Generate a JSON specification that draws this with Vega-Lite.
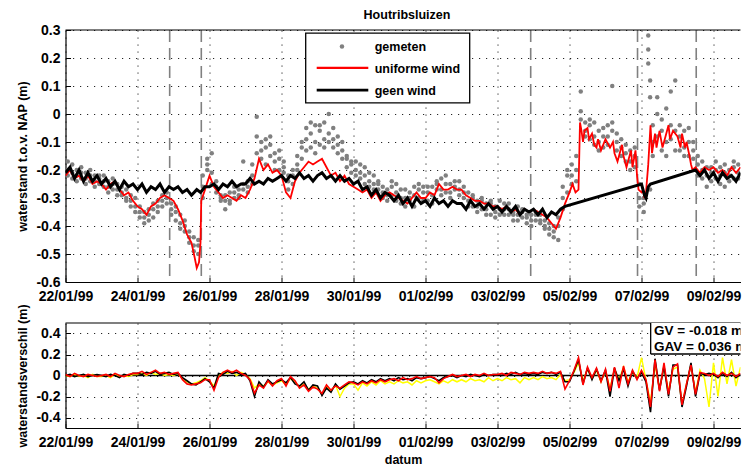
{
"$schema":"https://vega.github.io/schema/vega-lite/v6.json",
"padding":{"left":16.5,"top":8,"right":0,"bottom":0},
"spacing":41,
"bounds":"flush",
"vconcat":[
{
"width":675,"height":252,
"title":{"text":"Houtribsluizen","fontSize":12.5,"font":"Liberation Sans","fontWeight":"bold","color":"#000","offset":2,"dx":4},
"layer":[
{"data":{"values":[{"t":"1999-01-24T21:27Z"},{"t":"1999-01-25T18:32Z"},{"t":"1999-02-03T22:08Z"},{"t":"1999-02-06T21:21Z"},{"t":"1999-02-08T12:29Z"}]},
 "mark":{"type":"rule","color":"#808080","strokeWidth":1.6,"strokeDash":[12,6]},
 "encoding":{"x":{"field":"t","type":"temporal","title":null,
   "scale":{"type":"utc","domain":[{"year":1999,"month":1,"date":22,"utc":true},{"year":1999,"month":2,"date":9,"hours":18,"utc":true}],"nice":false},
   "axis":{"values":[{"year":1999,"month":1,"date":22,"utc":true},{"year":1999,"month":1,"date":24,"utc":true},{"year":1999,"month":1,"date":26,"utc":true},{"year":1999,"month":1,"date":28,"utc":true},{"year":1999,"month":1,"date":30,"utc":true},{"year":1999,"month":2,"date":1,"utc":true},{"year":1999,"month":2,"date":3,"utc":true},{"year":1999,"month":2,"date":5,"utc":true},{"year":1999,"month":2,"date":7,"utc":true},{"year":1999,"month":2,"date":9,"utc":true}],"labelExpr":"utcFormat(datum.value,'%d/%m/%y')","title":null}}}},
{"data":{"values":[
{"t":"1999-01-22T01:30Z","a":-0.20,"b":-0.22,"c":-0.17},{"t":"1999-01-22T04:30Z","a":-0.18,"b":-0.21,"c":-0.23},{"t":"1999-01-22T07:30Z","a":-0.22,"b":-0.24,"c":-0.20},{"t":"1999-01-22T10:30Z","a":-0.21,"b":-0.19,"c":-0.23},{"t":"1999-01-22T13:30Z","a":-0.23,"b":-0.25,"c":-0.21},{"t":"1999-01-22T16:30Z","a":-0.22,"b":-0.20,"c":-0.24},{"t":"1999-01-22T19:30Z","a":-0.24,"b":-0.22,"c":-0.26},{"t":"1999-01-22T22:30Z","a":-0.23,"b":-0.25,"c":-0.22},
{"t":"1999-01-23T01:30Z","a":-0.24,"b":-0.26,"c":-0.22},{"t":"1999-01-23T04:30Z","a":-0.26,"b":-0.28,"c":-0.24},{"t":"1999-01-23T07:30Z","a":-0.25,"b":-0.23,"c":-0.27},{"t":"1999-01-23T10:30Z","a":-0.27,"b":-0.25,"c":-0.29},{"t":"1999-01-23T13:30Z","a":-0.28,"b":-0.29,"c":-0.26},{"t":"1999-01-23T16:30Z","a":-0.30,"b":-0.27,"c":-0.31},{"t":"1999-01-23T19:30Z","a":-0.31,"b":-0.29,"c":-0.33},{"t":"1999-01-23T22:30Z","a":-0.33,"b":-0.30,"c":-0.35},
{"t":"1999-01-24T01:30Z","a":-0.35,"b":-0.33,"c":-0.37},{"t":"1999-01-24T04:30Z","a":-0.37,"b":-0.39,"c":-0.35},{"t":"1999-01-24T07:30Z","a":-0.38,"b":-0.36,"c":-0.34},{"t":"1999-01-24T10:30Z","a":-0.34,"b":-0.37,"c":-0.32},{"t":"1999-01-24T13:30Z","a":-0.33,"b":-0.35,"c":-0.31},{"t":"1999-01-24T16:30Z","a":-0.31,"b":-0.29,"c":-0.33},{"t":"1999-01-24T19:30Z","a":-0.30,"b":-0.32,"c":-0.28},{"t":"1999-01-24T22:30Z","a":-0.32,"b":-0.34,"c":-0.36},
{"t":"1999-01-25T01:30Z","a":-0.35,"b":-0.38,"c":-0.33},{"t":"1999-01-25T04:30Z","a":-0.39,"b":-0.36,"c":-0.41},{"t":"1999-01-25T07:30Z","a":-0.42,"b":-0.40,"c":-0.38},{"t":"1999-01-25T10:30Z","a":-0.44,"b":-0.46,"c":-0.42},{"t":"1999-01-25T13:30Z","a":-0.47,"b":-0.44,"c":-0.49},{"t":"1999-01-25T16:30Z","a":-0.50,"b":-0.47,"c":-0.45},{"t":"1999-01-25T19:30Z","a":-0.30,"b":-0.22,"c":-0.26},{"t":"1999-01-25T22:30Z","a":-0.20,"b":-0.16,"c":-0.18},
{"t":"1999-01-26T01:30Z","a":-0.21,"b":-0.14,"c":-0.25},{"t":"1999-01-26T04:30Z","a":-0.26,"b":-0.28,"c":-0.24},{"t":"1999-01-26T07:30Z","a":-0.29,"b":-0.30,"c":-0.31},{"t":"1999-01-26T10:30Z","a":-0.31,"b":-0.34,"c":-0.29},{"t":"1999-01-26T13:30Z","a":-0.28,"b":-0.31,"c":-0.32},{"t":"1999-01-26T16:30Z","a":-0.30,"b":-0.28,"c":-0.26},{"t":"1999-01-26T19:30Z","a":-0.27,"b":-0.29,"c":-0.30},{"t":"1999-01-26T22:30Z","a":-0.25,"b":-0.27,"c":-0.17},
{"t":"1999-01-27T01:30Z","a":-0.26,"b":-0.28,"c":-0.24},{"t":"1999-01-27T04:30Z","a":-0.22,"b":-0.18,"c":-0.25},{"t":"1999-01-27T07:30Z","a":-0.14,"b":-0.08,"c":-0.01},{"t":"1999-01-27T10:30Z","a":-0.10,"b":-0.16,"c":-0.13},{"t":"1999-01-27T13:30Z","a":-0.12,"b":-0.09,"c":-0.18},{"t":"1999-01-27T16:30Z","a":-0.15,"b":-0.11,"c":-0.08},{"t":"1999-01-27T19:30Z","a":-0.17,"b":-0.14,"c":-0.20},{"t":"1999-01-27T22:30Z","a":-0.20,"b":-0.16,"c":-0.13},
{"t":"1999-01-28T01:30Z","a":-0.19,"b":-0.21,"c":-0.17},{"t":"1999-01-28T04:30Z","a":-0.24,"b":-0.27,"c":-0.22},{"t":"1999-01-28T07:30Z","a":-0.22,"b":-0.20,"c":-0.25},{"t":"1999-01-28T10:30Z","a":-0.18,"b":-0.15,"c":-0.20},{"t":"1999-01-28T13:30Z","a":-0.12,"b":-0.16,"c":-0.10},{"t":"1999-01-28T16:30Z","a":-0.09,"b":-0.05,"c":-0.13},{"t":"1999-01-28T19:30Z","a":-0.07,"b":-0.12,"c":-0.03},{"t":"1999-01-28T22:30Z","a":-0.10,"b":-0.04,"c":-0.14},
{"t":"1999-01-29T01:30Z","a":-0.06,"b":-0.11,"c":-0.04},{"t":"1999-01-29T04:30Z","a":-0.09,"b":-0.03,"c":-0.12},{"t":"1999-01-29T07:30Z","a":0.00,"b":-0.07,"c":-0.10},{"t":"1999-01-29T10:30Z","a":-0.12,"b":-0.05,"c":-0.09},{"t":"1999-01-29T13:30Z","a":-0.08,"b":-0.14,"c":-0.11},{"t":"1999-01-29T16:30Z","a":-0.13,"b":-0.10,"c":-0.16},{"t":"1999-01-29T19:30Z","a":-0.16,"b":-0.19,"c":-0.15},{"t":"1999-01-29T22:30Z","a":-0.18,"b":-0.17,"c":-0.21},
{"t":"1999-01-30T01:30Z","a":-0.20,"b":-0.17,"c":-0.22},{"t":"1999-01-30T04:30Z","a":-0.18,"b":-0.23,"c":-0.21},{"t":"1999-01-30T07:30Z","a":-0.22,"b":-0.19,"c":-0.25},{"t":"1999-01-30T10:30Z","a":-0.24,"b":-0.26,"c":-0.21},{"t":"1999-01-30T13:30Z","a":-0.25,"b":-0.22,"c":-0.27},{"t":"1999-01-30T16:30Z","a":-0.27,"b":-0.24,"c":-0.25},{"t":"1999-01-30T19:30Z","a":-0.26,"b":-0.28,"c":-0.30},{"t":"1999-01-30T22:30Z","a":-0.29,"b":-0.27,"c":-0.31},
{"t":"1999-01-31T01:30Z","a":-0.26,"b":-0.29,"c":-0.24},{"t":"1999-01-31T04:30Z","a":-0.28,"b":-0.25,"c":-0.31},{"t":"1999-01-31T07:30Z","a":-0.30,"b":-0.32,"c":-0.27},{"t":"1999-01-31T10:30Z","a":-0.27,"b":-0.30,"c":-0.33},{"t":"1999-01-31T13:30Z","a":-0.31,"b":-0.28,"c":-0.30},{"t":"1999-01-31T16:30Z","a":-0.29,"b":-0.33,"c":-0.26},{"t":"1999-01-31T19:30Z","a":-0.25,"b":-0.27,"c":-0.30},{"t":"1999-01-31T22:30Z","a":-0.28,"b":-0.31,"c":-0.26},
{"t":"1999-02-01T01:30Z","a":-0.28,"b":-0.31,"c":-0.26},{"t":"1999-02-01T04:30Z","a":-0.26,"b":-0.29,"c":-0.32},{"t":"1999-02-01T07:30Z","a":-0.24,"b":-0.27,"c":-0.25},{"t":"1999-02-01T10:30Z","a":-0.27,"b":-0.23,"c":-0.29},{"t":"1999-02-01T13:30Z","a":-0.25,"b":-0.28,"c":-0.22},{"t":"1999-02-01T16:30Z","a":-0.28,"b":-0.25,"c":-0.30},{"t":"1999-02-01T19:30Z","a":-0.24,"b":-0.27,"c":-0.26},{"t":"1999-02-01T22:30Z","a":-0.27,"b":-0.29,"c":-0.24},
{"t":"1999-02-02T01:30Z","a":-0.28,"b":-0.30,"c":-0.26},{"t":"1999-02-02T04:30Z","a":-0.31,"b":-0.28,"c":-0.33},{"t":"1999-02-02T07:30Z","a":-0.30,"b":-0.33,"c":-0.29},{"t":"1999-02-02T10:30Z","a":-0.33,"b":-0.31,"c":-0.35},{"t":"1999-02-02T13:30Z","a":-0.31,"b":-0.34,"c":-0.30},{"t":"1999-02-02T16:30Z","a":-0.34,"b":-0.32,"c":-0.36},{"t":"1999-02-02T19:30Z","a":-0.32,"b":-0.36,"c":-0.31},{"t":"1999-02-02T22:30Z","a":-0.35,"b":-0.33,"c":-0.37},
{"t":"1999-02-03T01:30Z","a":-0.34,"b":-0.31,"c":-0.36},{"t":"1999-02-03T04:30Z","a":-0.32,"b":-0.36,"c":-0.34},{"t":"1999-02-03T07:30Z","a":-0.36,"b":-0.34,"c":-0.32},{"t":"1999-02-03T10:30Z","a":-0.35,"b":-0.38,"c":-0.36},{"t":"1999-02-03T13:30Z","a":-0.33,"b":-0.36,"c":-0.38},{"t":"1999-02-03T16:30Z","a":-0.37,"b":-0.35,"c":-0.34},{"t":"1999-02-03T19:30Z","a":-0.36,"b":-0.39,"c":-0.37},{"t":"1999-02-03T22:30Z","a":-0.38,"b":-0.36,"c":-0.40},
{"t":"1999-02-04T01:30Z","a":-0.36,"b":-0.38,"c":-0.35},{"t":"1999-02-04T04:30Z","a":-0.38,"b":-0.36,"c":-0.39},{"t":"1999-02-04T07:30Z","a":-0.40,"b":-0.41,"c":-0.38},{"t":"1999-02-04T10:30Z","a":-0.39,"b":-0.43,"c":-0.41},{"t":"1999-02-04T13:30Z","a":-0.42,"b":-0.40,"c":-0.44},{"t":"1999-02-04T16:30Z","a":-0.40,"b":-0.45,"c":-0.37},{"t":"1999-02-04T19:30Z","a":-0.30,"b":-0.26,"c":-0.34},{"t":"1999-02-04T22:30Z","a":-0.22,"b":-0.28,"c":-0.20},
{"t":"1999-02-05T01:30Z","a":-0.18,"b":-0.22,"c":-0.25},{"t":"1999-02-05T04:30Z","a":-0.24,"b":-0.15,"c":-0.20},{"t":"1999-02-05T07:30Z","a":-0.02,"b":0.01,"c":0.08},{"t":"1999-02-05T10:30Z","a":-0.06,"b":-0.03,"c":-0.08},{"t":"1999-02-05T13:30Z","a":-0.04,"b":-0.09,"c":-0.02},{"t":"1999-02-05T16:30Z","a":-0.08,"b":-0.03,"c":-0.11},{"t":"1999-02-05T19:30Z","a":-0.10,"b":-0.06,"c":-0.13},{"t":"1999-02-05T22:30Z","a":-0.05,"b":-0.12,"c":-0.08},
{"t":"1999-02-06T01:30Z","a":-0.04,"b":-0.08,"c":-0.11},{"t":"1999-02-06T04:30Z","a":0.10,"b":-0.06,"c":-0.03},{"t":"1999-02-06T07:30Z","a":-0.10,"b":-0.13,"c":-0.07},{"t":"1999-02-06T10:30Z","a":-0.12,"b":-0.09,"c":-0.15},{"t":"1999-02-06T13:30Z","a":-0.14,"b":-0.17,"c":-0.11},{"t":"1999-02-06T16:30Z","a":-0.17,"b":-0.13,"c":-0.20},{"t":"1999-02-06T19:30Z","a":-0.12,"b":-0.19,"c":-0.15},{"t":"1999-02-06T22:30Z","a":-0.25,"b":-0.30,"c":-0.33},
{"t":"1999-02-07T01:30Z","a":-0.32,"b":-0.30,"c":-0.35},{"t":"1999-02-07T04:30Z","a":0.28,"b":0.23,"c":0.18},{"t":"1999-02-07T05:45Z","a":0.12,"b":0.06,"c":-0.27},{"t":"1999-02-07T07:30Z","a":-0.04,"b":-0.15,"c":-0.10},{"t":"1999-02-07T10:30Z","a":0.06,"b":-0.08,"c":0.00},{"t":"1999-02-07T13:30Z","a":-0.02,"b":-0.13,"c":-0.06},{"t":"1999-02-07T16:30Z","a":-0.10,"b":0.02,"c":-0.15},{"t":"1999-02-07T19:30Z","a":0.08,"b":-0.04,"c":-0.09},{"t":"1999-02-07T22:30Z","a":-0.06,"b":-0.13,"c":0.12},
{"t":"1999-02-08T01:30Z","a":-0.08,"b":-0.13,"c":-0.04},{"t":"1999-02-08T04:30Z","a":-0.12,"b":-0.06,"c":-0.15},{"t":"1999-02-08T07:30Z","a":-0.05,"b":-0.15,"c":-0.10},{"t":"1999-02-08T10:30Z","a":-0.16,"b":-0.10,"c":-0.13},{"t":"1999-02-08T13:30Z","a":-0.18,"b":-0.22,"c":-0.15},{"t":"1999-02-08T16:30Z","a":-0.20,"b":-0.17,"c":-0.23},{"t":"1999-02-08T19:30Z","a":-0.22,"b":-0.19,"c":-0.26},{"t":"1999-02-08T22:30Z","a":-0.19,"b":-0.24,"c":-0.21},
{"t":"1999-02-09T01:30Z","a":-0.20,"b":-0.17,"c":-0.23},{"t":"1999-02-09T04:30Z","a":-0.22,"b":-0.25,"c":-0.19},{"t":"1999-02-09T07:30Z","a":-0.18,"b":-0.21,"c":-0.26},{"t":"1999-02-09T10:30Z","a":-0.24,"b":-0.20,"c":-0.22},{"t":"1999-02-09T13:30Z","a":-0.19,"b":-0.23,"c":-0.17},{"t":"1999-02-09T16:30Z","a":-0.23,"b":-0.18,"c":-0.21}
]},
 "transform":[{"fold":["a","b","c"],"as":["s","v"]}],
 "mark":{"type":"circle","color":"#808080","size":20,"opacity":1,"clip":true},
 "encoding":{"x":{"field":"t","type":"temporal","scale":{"type":"utc","nice":false}},
   "y":{"field":"v","type":"quantitative","title":"waterstand t.o.v. NAP (m)","scale":{"domain":[-0.6,0.3],"nice":false,"zero":false},
     "axis":{"values":[-0.6,-0.5,-0.4,-0.3,-0.2,-0.1,0,0.1,0.2,0.3],"labelExpr":"replace(format(datum.value,'.1~f'),'\u2212','-')"}}}},
{"data":{"values":[
{"t":"1999-01-22T00:00Z","u":-0.22,"n":-0.21},{"t":"1999-01-22T03:00Z","u":-0.20,"n":-0.19},{"t":"1999-01-22T06:00Z","u":-0.23,"n":-0.23},{"t":"1999-01-22T09:00Z","u":-0.22,"n":-0.20},{"t":"1999-01-22T12:00Z","u":-0.24,"n":-0.24},{"t":"1999-01-22T15:00Z","u":-0.22,"n":-0.21},{"t":"1999-01-22T18:00Z","u":-0.25,"n":-0.24},{"t":"1999-01-22T21:00Z","u":-0.24,"n":-0.22},
{"t":"1999-01-23T00:00Z","u":-0.25,"n":-0.25},{"t":"1999-01-23T03:00Z","u":-0.27,"n":-0.23},{"t":"1999-01-23T06:00Z","u":-0.25,"n":-0.26},{"t":"1999-01-23T09:00Z","u":-0.24,"n":-0.24},{"t":"1999-01-23T12:00Z","u":-0.27,"n":-0.27},{"t":"1999-01-23T15:00Z","u":-0.29,"n":-0.24},{"t":"1999-01-23T18:00Z","u":-0.28,"n":-0.26},{"t":"1999-01-23T21:00Z","u":-0.31,"n":-0.25},
{"t":"1999-01-24T00:00Z","u":-0.33,"n":-0.27},{"t":"1999-01-24T03:00Z","u":-0.34,"n":-0.25},{"t":"1999-01-24T06:00Z","u":-0.36,"n":-0.28},{"t":"1999-01-24T09:00Z","u":-0.33,"n":-0.26},{"t":"1999-01-24T12:00Z","u":-0.32,"n":-0.27},{"t":"1999-01-24T15:00Z","u":-0.30,"n":-0.25},{"t":"1999-01-24T18:00Z","u":-0.29,"n":-0.28},{"t":"1999-01-24T21:00Z","u":-0.30,"n":-0.26},
{"t":"1999-01-25T00:00Z","u":-0.31,"n":-0.27},{"t":"1999-01-25T03:00Z","u":-0.34,"n":-0.26},{"t":"1999-01-25T06:00Z","u":-0.38,"n":-0.28},{"t":"1999-01-25T09:00Z","u":-0.43,"n":-0.27},{"t":"1999-01-25T12:00Z","u":-0.46,"n":-0.29},{"t":"1999-01-25T14:00Z","u":-0.51},{"t":"1999-01-25T15:30Z","u":-0.55,"n":-0.27},{"t":"1999-01-25T17:00Z","u":-0.53},{"t":"1999-01-25T18:00Z","u":-0.46,"n":-0.28},{"t":"1999-01-25T18:30Z","u":-0.31},{"t":"1999-01-25T21:00Z","u":-0.27,"n":-0.26},
{"t":"1999-01-26T00:00Z","u":-0.22,"n":-0.26},{"t":"1999-01-26T03:00Z","u":-0.26,"n":-0.25},{"t":"1999-01-26T06:00Z","u":-0.28,"n":-0.27},{"t":"1999-01-26T09:00Z","u":-0.30,"n":-0.25},{"t":"1999-01-26T12:00Z","u":-0.29,"n":-0.26},{"t":"1999-01-26T15:00Z","u":-0.30,"n":-0.24},{"t":"1999-01-26T18:00Z","u":-0.31,"n":-0.26},{"t":"1999-01-26T21:00Z","u":-0.29,"n":-0.25},
{"t":"1999-01-27T00:00Z","u":-0.30,"n":-0.25},{"t":"1999-01-27T03:00Z","u":-0.27,"n":-0.23},{"t":"1999-01-27T06:00Z","u":-0.23,"n":-0.25},{"t":"1999-01-27T09:00Z","u":-0.16,"n":-0.24},{"t":"1999-01-27T12:00Z","u":-0.20,"n":-0.25},{"t":"1999-01-27T15:00Z","u":-0.18,"n":-0.23},{"t":"1999-01-27T18:00Z","u":-0.21,"n":-0.24},{"t":"1999-01-27T21:00Z","u":-0.20,"n":-0.23},
{"t":"1999-01-28T00:00Z","u":-0.22,"n":-0.22},{"t":"1999-01-28T03:00Z","u":-0.28,"n":-0.24},{"t":"1999-01-28T06:00Z","u":-0.30,"n":-0.22},{"t":"1999-01-28T09:00Z","u":-0.24,"n":-0.23},{"t":"1999-01-28T12:00Z","u":-0.21,"n":-0.21},{"t":"1999-01-28T15:00Z","u":-0.19,"n":-0.23},{"t":"1999-01-28T18:00Z","u":-0.17,"n":-0.22},{"t":"1999-01-28T21:00Z","u":-0.18,"n":-0.24},
{"t":"1999-01-29T00:00Z","u":-0.17,"n":-0.22},{"t":"1999-01-29T03:00Z","u":-0.16,"n":-0.21},{"t":"1999-01-29T06:00Z","u":-0.19,"n":-0.23},{"t":"1999-01-29T09:00Z","u":-0.22,"n":-0.22},{"t":"1999-01-29T12:00Z","u":-0.21,"n":-0.24},{"t":"1999-01-29T15:00Z","u":-0.24,"n":-0.22},{"t":"1999-01-29T18:00Z","u":-0.22,"n":-0.24},{"t":"1999-01-29T21:00Z","u":-0.25,"n":-0.23},
{"t":"1999-01-30T00:00Z","u":-0.26,"n":-0.25},{"t":"1999-01-30T03:00Z","u":-0.27,"n":-0.24},{"t":"1999-01-30T06:00Z","u":-0.28,"n":-0.27},{"t":"1999-01-30T09:00Z","u":-0.27,"n":-0.26},{"t":"1999-01-30T12:00Z","u":-0.30,"n":-0.29},{"t":"1999-01-30T15:00Z","u":-0.28,"n":-0.27},{"t":"1999-01-30T18:00Z","u":-0.31,"n":-0.30},{"t":"1999-01-30T21:00Z","u":-0.29,"n":-0.28},
{"t":"1999-01-31T00:00Z","u":-0.28,"n":-0.29},{"t":"1999-01-31T03:00Z","u":-0.29,"n":-0.31},{"t":"1999-01-31T06:00Z","u":-0.30,"n":-0.29},{"t":"1999-01-31T09:00Z","u":-0.31,"n":-0.32},{"t":"1999-01-31T12:00Z","u":-0.32,"n":-0.30},{"t":"1999-01-31T15:00Z","u":-0.30,"n":-0.33},{"t":"1999-01-31T18:00Z","u":-0.28,"n":-0.30},{"t":"1999-01-31T21:00Z","u":-0.30,"n":-0.32},
{"t":"1999-02-01T00:00Z","u":-0.30,"n":-0.31},{"t":"1999-02-01T03:00Z","u":-0.28,"n":-0.33},{"t":"1999-02-01T06:00Z","u":-0.29,"n":-0.30},{"t":"1999-02-01T09:00Z","u":-0.25,"n":-0.32},{"t":"1999-02-01T12:00Z","u":-0.27,"n":-0.31},{"t":"1999-02-01T15:00Z","u":-0.27,"n":-0.33},{"t":"1999-02-01T18:00Z","u":-0.26,"n":-0.31},{"t":"1999-02-01T21:00Z","u":-0.27,"n":-0.32},
{"t":"1999-02-02T00:00Z","u":-0.27,"n":-0.32},{"t":"1999-02-02T03:00Z","u":-0.29,"n":-0.34},{"t":"1999-02-02T06:00Z","u":-0.30,"n":-0.31},{"t":"1999-02-02T09:00Z","u":-0.31,"n":-0.33},{"t":"1999-02-02T12:00Z","u":-0.31,"n":-0.32},{"t":"1999-02-02T15:00Z","u":-0.32,"n":-0.34},{"t":"1999-02-02T18:00Z","u":-0.32,"n":-0.32},{"t":"1999-02-02T21:00Z","u":-0.33,"n":-0.34},
{"t":"1999-02-03T00:00Z","u":-0.33,"n":-0.33},{"t":"1999-02-03T03:00Z","u":-0.34,"n":-0.35},{"t":"1999-02-03T06:00Z","u":-0.33,"n":-0.33},{"t":"1999-02-03T09:00Z","u":-0.35,"n":-0.35},{"t":"1999-02-03T12:00Z","u":-0.34,"n":-0.33},{"t":"1999-02-03T15:00Z","u":-0.36,"n":-0.36},{"t":"1999-02-03T18:00Z","u":-0.34,"n":-0.34},{"t":"1999-02-03T21:00Z","u":-0.35,"n":-0.35},
{"t":"1999-02-04T00:00Z","u":-0.34,"n":-0.34},{"t":"1999-02-04T03:00Z","u":-0.35,"n":-0.36},{"t":"1999-02-04T06:00Z","u":-0.36,"n":-0.34},{"t":"1999-02-04T09:00Z","u":-0.37,"n":-0.37},{"t":"1999-02-04T12:00Z","u":-0.39,"n":-0.35},{"t":"1999-02-04T15:00Z","u":-0.41,"n":-0.36},{"t":"1999-02-04T18:00Z","u":-0.37,"n":-0.34},{"t":"1999-02-04T21:00Z","u":-0.32,"n":-0.33},
{"t":"1999-02-05T00:00Z","u":-0.28},{"t":"1999-02-05T02:00Z","u":-0.25},{"t":"1999-02-05T04:00Z","u":-0.28},{"t":"1999-02-05T06:00Z","u":-0.27},{"t":"1999-02-05T07:00Z","u":-0.03},{"t":"1999-02-05T08:00Z","u":-0.06},{"t":"1999-02-05T09:00Z","u":-0.10},{"t":"1999-02-05T10:00Z","u":-0.06},{"t":"1999-02-05T12:00Z","u":-0.05},{"t":"1999-02-05T13:00Z","u":-0.09},{"t":"1999-02-05T15:00Z","u":-0.07},{"t":"1999-02-05T16:30Z","u":-0.11},{"t":"1999-02-05T18:00Z","u":-0.12},{"t":"1999-02-05T19:00Z","u":-0.09},{"t":"1999-02-05T21:00Z","u":-0.13},
{"t":"1999-02-06T00:00Z","u":-0.09},{"t":"1999-02-06T02:00Z","u":-0.11},{"t":"1999-02-06T03:00Z","u":-0.12},{"t":"1999-02-06T05:00Z","u":-0.10},{"t":"1999-02-06T06:00Z","u":-0.14},{"t":"1999-02-06T08:00Z","u":-0.17},{"t":"1999-02-06T09:00Z","u":-0.15},{"t":"1999-02-06T11:00Z","u":-0.11},{"t":"1999-02-06T12:00Z","u":-0.15},{"t":"1999-02-06T14:00Z","u":-0.19},{"t":"1999-02-06T15:00Z","u":-0.17},{"t":"1999-02-06T17:00Z","u":-0.13},{"t":"1999-02-06T18:00Z","u":-0.19},{"t":"1999-02-06T20:00Z","u":-0.13},{"t":"1999-02-06T21:00Z","u":-0.22},{"t":"1999-02-06T22:00Z","u":-0.27},
{"t":"1999-02-07T00:00Z","u":-0.28,"n":-0.25},{"t":"1999-02-07T01:00Z","u":-0.27},{"t":"1999-02-07T02:00Z","u":-0.30,"n":-0.29},{"t":"1999-02-07T03:00Z","u":-0.28,"n":-0.30},{"t":"1999-02-07T04:30Z","u":-0.18,"n":-0.26},{"t":"1999-02-07T06:00Z","u":-0.04,"n":-0.25},{"t":"1999-02-07T07:00Z","u":-0.14},{"t":"1999-02-07T09:00Z","u":-0.07},{"t":"1999-02-07T10:00Z","u":-0.12},{"t":"1999-02-07T12:00Z","u":-0.06},{"t":"1999-02-07T14:00Z","u":-0.12},{"t":"1999-02-07T16:00Z","u":-0.08},{"t":"1999-02-07T18:00Z","u":-0.04},{"t":"1999-02-07T19:00Z","u":-0.09},{"t":"1999-02-07T21:00Z","u":-0.06},
{"t":"1999-02-08T00:00Z","u":-0.08},{"t":"1999-02-08T02:00Z","u":-0.12},{"t":"1999-02-08T03:00Z","u":-0.07},{"t":"1999-02-08T05:00Z","u":-0.12},{"t":"1999-02-08T06:00Z","u":-0.10},{"t":"1999-02-08T08:00Z","u":-0.15},{"t":"1999-02-08T09:00Z","u":-0.18},{"t":"1999-02-08T10:00Z","u":-0.20},{"t":"1999-02-08T12:00Z","u":-0.19,"n":-0.20},{"t":"1999-02-08T15:00Z","u":-0.21,"n":-0.22},{"t":"1999-02-08T18:00Z","u":-0.19,"n":-0.20},{"t":"1999-02-08T21:00Z","u":-0.20,"n":-0.23},
{"t":"1999-02-09T00:00Z","u":-0.19,"n":-0.21},{"t":"1999-02-09T03:00Z","u":-0.21,"n":-0.24},{"t":"1999-02-09T06:00Z","u":-0.20,"n":-0.21},{"t":"1999-02-09T09:00Z","u":-0.22,"n":-0.23},{"t":"1999-02-09T12:00Z","u":-0.19,"n":-0.22},{"t":"1999-02-09T15:00Z","u":-0.21,"n":-0.24},{"t":"1999-02-09T18:00Z","u":-0.19,"n":-0.21}
]},
 "layer":[
  {"mark":{"type":"line","color":"#ff0000","strokeWidth":1.8,"clip":true,"invalid":"filter"},
   "encoding":{"x":{"field":"t","type":"temporal","scale":{"type":"utc","nice":false}},"y":{"field":"u","type":"quantitative","title":"waterstand t.o.v. NAP (m)",
     "axis":{"values":[-0.6,-0.5,-0.4,-0.3,-0.2,-0.1,0,0.1,0.2,0.3],"labelExpr":"replace(format(datum.value,'.1~f'),'\u2212','-')"}}}},
  {"mark":{"type":"line","color":"#000000","strokeWidth":3,"clip":true,"invalid":"filter"},
   "encoding":{"x":{"field":"t","type":"temporal","scale":{"type":"utc","nice":false}},"y":{"field":"n","type":"quantitative","title":"waterstand t.o.v. NAP (m)",
     "axis":{"values":[-0.6,-0.5,-0.4,-0.3,-0.2,-0.1,0,0.1,0.2,0.3],"labelExpr":"replace(format(datum.value,'.1~f'),'\u2212','-')"}}}}
 ]},
{"data":{"values":[{}]},"mark":{"type":"rule","color":"#000","strokeWidth":1.2},"encoding":{"y":{"datum":0.3,"type":"quantitative","title":"waterstand t.o.v. NAP (m)",
     "axis":{"values":[-0.6,-0.5,-0.4,-0.3,-0.2,-0.1,0,0.1,0.2,0.3],"labelExpr":"replace(format(datum.value,'.1~f'),'\u2212','-')"}}}},
{"data":{"values":[{}]},"mark":{"type":"rect","fill":"#ffffff","stroke":"#000","strokeWidth":1.3},
 "encoding":{"x":{"datum":{"year":1999,"month":1,"date":28,"hours":16,"minutes":8,"utc":true},"type":"temporal","scale":{"type":"utc","nice":false}},"x2":{"datum":{"year":1999,"month":2,"date":2,"hours":5,"minutes":28,"utc":true}},
   "y":{"datum":0.289,"type":"quantitative","title":"waterstand t.o.v. NAP (m)","axis":{"values":[-0.6,-0.5,-0.4,-0.3,-0.2,-0.1,0,0.1,0.2,0.3],"labelExpr":"replace(format(datum.value,'.1~f'),'\u2212','-')"}},"y2":{"datum":0.04}}},
{"data":{"values":[{}]},"mark":{"type":"circle","color":"#808080","size":20,"opacity":1},
 "encoding":{"x":{"datum":{"year":1999,"month":1,"date":29,"hours":16,"minutes":19,"utc":true},"type":"temporal","scale":{"type":"utc","nice":false}},"y":{"datum":0.241,"type":"quantitative","title":"waterstand t.o.v. NAP (m)","axis":{"values":[-0.6,-0.5,-0.4,-0.3,-0.2,-0.1,0,0.1,0.2,0.3],"labelExpr":"replace(format(datum.value,'.1~f'),'\u2212','-')"}}}},
{"data":{"values":[{}]},"mark":{"type":"rule","color":"#ff0000","strokeWidth":2.2},
 "encoding":{"x":{"datum":{"year":1999,"month":1,"date":28,"hours":23,"minutes":28,"utc":true},"type":"temporal","scale":{"type":"utc","nice":false}},"x2":{"datum":{"year":1999,"month":1,"date":30,"hours":9,"minutes":52,"utc":true}},"y":{"datum":0.165,"type":"quantitative","title":"waterstand t.o.v. NAP (m)","axis":{"values":[-0.6,-0.5,-0.4,-0.3,-0.2,-0.1,0,0.1,0.2,0.3],"labelExpr":"replace(format(datum.value,'.1~f'),'\u2212','-')"}}}},
{"data":{"values":[{}]},"mark":{"type":"rule","color":"#000000","strokeWidth":2.8},
 "encoding":{"x":{"datum":{"year":1999,"month":1,"date":28,"hours":23,"minutes":28,"utc":true},"type":"temporal","scale":{"type":"utc","nice":false}},"x2":{"datum":{"year":1999,"month":1,"date":30,"hours":9,"minutes":52,"utc":true}},"y":{"datum":0.085,"type":"quantitative","title":"waterstand t.o.v. NAP (m)","axis":{"values":[-0.6,-0.5,-0.4,-0.3,-0.2,-0.1,0,0.1,0.2,0.3],"labelExpr":"replace(format(datum.value,'.1~f'),'\u2212','-')"}}}},
{"data":{"values":[{}]},"mark":{"type":"text","text":"gemeten","align":"left","baseline":"middle","font":"Liberation Sans","fontWeight":"bold","fontSize":12.5,"color":"#000"},
 "encoding":{"x":{"datum":{"year":1999,"month":1,"date":30,"hours":14,"minutes":8,"utc":true},"type":"temporal","scale":{"type":"utc","nice":false}},"y":{"datum":0.238,"type":"quantitative","title":"waterstand t.o.v. NAP (m)","axis":{"values":[-0.6,-0.5,-0.4,-0.3,-0.2,-0.1,0,0.1,0.2,0.3],"labelExpr":"replace(format(datum.value,'.1~f'),'\u2212','-')"}}}},
{"data":{"values":[{}]},"mark":{"type":"text","text":"uniforme wind","align":"left","baseline":"middle","font":"Liberation Sans","fontWeight":"bold","fontSize":12.5,"color":"#000"},
 "encoding":{"x":{"datum":{"year":1999,"month":1,"date":30,"hours":14,"minutes":8,"utc":true},"type":"temporal","scale":{"type":"utc","nice":false}},"y":{"datum":0.16,"type":"quantitative","title":"waterstand t.o.v. NAP (m)","axis":{"values":[-0.6,-0.5,-0.4,-0.3,-0.2,-0.1,0,0.1,0.2,0.3],"labelExpr":"replace(format(datum.value,'.1~f'),'\u2212','-')"}}}},
{"data":{"values":[{}]},"mark":{"type":"text","text":"geen wind","align":"left","baseline":"middle","font":"Liberation Sans","fontWeight":"bold","fontSize":12.5,"color":"#000"},
 "encoding":{"x":{"datum":{"year":1999,"month":1,"date":30,"hours":14,"minutes":8,"utc":true},"type":"temporal","scale":{"type":"utc","nice":false}},"y":{"datum":0.083,"type":"quantitative","title":"waterstand t.o.v. NAP (m)","axis":{"values":[-0.6,-0.5,-0.4,-0.3,-0.2,-0.1,0,0.1,0.2,0.3],"labelExpr":"replace(format(datum.value,'.1~f'),'\u2212','-')"}}}}
]
},
{
"width":675,"height":105,
"layer":[
{"data":{"values":[{}]},"mark":{"type":"rule","color":"#000","strokeWidth":1.3},"encoding":{"y":{"datum":0,"type":"quantitative","title":"waterstandsverschil (m)","axis":{"values":[-0.4,-0.2,0,0.2,0.4],"labelExpr":"replace(format(datum.value,'.1~f'),'\u2212','-')"}}}},
{"data":{"values":[
{"t":"1999-01-22T00:00Z","y":0.00,"k":0.00,"r":0.01},{"t":"1999-01-22T03:00Z","y":-0.01,"k":0.01,"r":-0.01},{"t":"1999-01-22T06:00Z","y":0.01,"k":-0.01,"r":0.02},{"t":"1999-01-22T09:00Z","y":-0.01,"k":0.00,"r":0.00},{"t":"1999-01-22T12:00Z","y":0.00,"k":0.01,"r":-0.01},{"t":"1999-01-22T15:00Z","y":-0.02,"k":-0.01,"r":0.01},{"t":"1999-01-22T18:00Z","y":0.01,"k":0.00,"r":0.00},{"t":"1999-01-22T21:00Z","y":-0.01,"k":0.01,"r":-0.01},
{"t":"1999-01-23T00:00Z","y":-0.01,"k":0.00,"r":0.00},{"t":"1999-01-23T03:00Z","y":0.00,"k":-0.01,"r":0.01},{"t":"1999-01-23T06:00Z","y":-0.02,"k":0.01,"r":-0.01},{"t":"1999-01-23T09:00Z","y":0.01,"k":0.00,"r":0.02},{"t":"1999-01-23T12:00Z","y":-0.01,"k":-0.02,"r":0.00},{"t":"1999-01-23T15:00Z","y":0.00,"k":0.01,"r":-0.01},{"t":"1999-01-23T18:00Z","y":-0.01,"k":0.00,"r":0.01},{"t":"1999-01-23T21:00Z","y":0.01,"k":0.02,"r":0.02},
{"t":"1999-01-24T00:00Z","y":0.01,"k":0.02,"r":0.02},{"t":"1999-01-24T03:00Z","y":0.02,"k":0.01,"r":0.04},{"t":"1999-01-24T06:00Z","y":0.00,"k":0.03,"r":0.01},{"t":"1999-01-24T09:00Z","y":0.03,"k":0.02,"r":0.03},{"t":"1999-01-24T12:00Z","y":0.01,"k":0.04,"r":0.05},{"t":"1999-01-24T15:00Z","y":0.02,"k":0.01,"r":0.02},{"t":"1999-01-24T18:00Z","y":0.00,"k":0.02,"r":0.03},{"t":"1999-01-24T21:00Z","y":0.01,"k":0.03,"r":0.01},
{"t":"1999-01-25T00:00Z","y":0.00,"k":0.01,"r":0.02},{"t":"1999-01-25T03:00Z","y":0.02,"k":0.02,"r":0.03},{"t":"1999-01-25T06:00Z","y":-0.03,"k":-0.02,"r":-0.04},{"t":"1999-01-25T09:00Z","y":-0.06,"k":-0.05,"r":-0.08},{"t":"1999-01-25T12:00Z","y":-0.08,"k":-0.08,"r":-0.09},{"t":"1999-01-25T15:00Z","y":-0.07,"k":-0.09,"r":-0.08},{"t":"1999-01-25T18:00Z","y":-0.05,"k":-0.06,"r":-0.07},{"t":"1999-01-25T21:00Z","y":-0.02,"k":-0.03,"r":-0.04},
{"t":"1999-01-26T00:00Z","y":-0.05,"k":-0.06,"r":-0.04},{"t":"1999-01-26T03:00Z","y":-0.10,"k":-0.12,"r":-0.14},{"t":"1999-01-26T06:00Z","y":0.00,"k":0.02,"r":-0.02},{"t":"1999-01-26T09:00Z","y":0.03,"k":0.01,"r":0.03},{"t":"1999-01-26T12:00Z","y":0.02,"k":0.04,"r":0.05},{"t":"1999-01-26T15:00Z","y":0.04,"k":0.02,"r":0.03},{"t":"1999-01-26T18:00Z","y":0.00,"k":0.03,"r":0.05},{"t":"1999-01-26T21:00Z","y":0.03,"k":0.01,"r":0.02},
{"t":"1999-01-27T00:00Z","y":0.01,"k":0.02,"r":0.00},{"t":"1999-01-27T03:00Z","y":-0.03,"k":-0.05,"r":-0.04},{"t":"1999-01-27T06:00Z","y":-0.12,"k":-0.20,"r":-0.17},{"t":"1999-01-27T09:00Z","y":-0.08,"k":-0.06,"r":-0.09},{"t":"1999-01-27T12:00Z","y":-0.10,"k":-0.11,"r":-0.12},{"t":"1999-01-27T15:00Z","y":-0.06,"k":-0.04,"r":-0.05},{"t":"1999-01-27T18:00Z","y":-0.09,"k":-0.08,"r":-0.10},{"t":"1999-01-27T21:00Z","y":-0.07,"k":-0.06,"r":-0.05},
{"t":"1999-01-28T00:00Z","y":-0.05,"k":-0.04,"r":-0.03},{"t":"1999-01-28T03:00Z","y":-0.09,"k":-0.07,"r":-0.10},{"t":"1999-01-28T06:00Z","y":-0.03,"k":-0.02,"r":-0.01},{"t":"1999-01-28T09:00Z","y":-0.06,"k":-0.08,"r":-0.05},{"t":"1999-01-28T12:00Z","y":-0.11,"k":-0.10,"r":-0.12},{"t":"1999-01-28T15:00Z","y":-0.08,"k":-0.06,"r":-0.09},{"t":"1999-01-28T18:00Z","y":-0.13,"k":-0.14,"r":-0.15},{"t":"1999-01-28T21:00Z","y":-0.10,"k":-0.09,"r":-0.11},
{"t":"1999-01-29T00:00Z","y":-0.12,"k":-0.10,"r":-0.13},{"t":"1999-01-29T03:00Z","y":-0.18,"k":-0.19,"r":-0.17},{"t":"1999-01-29T06:00Z","y":-0.10,"k":-0.12,"r":-0.09},{"t":"1999-01-29T09:00Z","y":-0.15,"k":-0.16,"r":-0.14},{"t":"1999-01-29T12:00Z","y":-0.09,"k":-0.08,"r":-0.10},{"t":"1999-01-29T15:00Z","y":-0.20,"k":-0.13,"r":-0.12},{"t":"1999-01-29T18:00Z","y":-0.12,"k":-0.10,"r":-0.09},{"t":"1999-01-29T21:00Z","y":-0.08,"k":-0.07,"r":-0.06},
{"t":"1999-01-30T00:00Z","y":-0.08,"k":-0.06,"r":-0.07},{"t":"1999-01-30T03:00Z","y":-0.14,"k":-0.08,"r":-0.09},{"t":"1999-01-30T06:00Z","y":-0.07,"k":-0.05,"r":-0.06},{"t":"1999-01-30T09:00Z","y":-0.10,"k":-0.07,"r":-0.08},{"t":"1999-01-30T12:00Z","y":-0.06,"k":-0.04,"r":-0.05},{"t":"1999-01-30T15:00Z","y":-0.09,"k":-0.06,"r":-0.07},{"t":"1999-01-30T18:00Z","y":-0.05,"k":-0.03,"r":-0.04},{"t":"1999-01-30T21:00Z","y":-0.08,"k":-0.05,"r":-0.06},
{"t":"1999-01-31T00:00Z","y":-0.06,"k":-0.03,"r":-0.04},{"t":"1999-01-31T03:00Z","y":-0.08,"k":-0.05,"r":-0.03},{"t":"1999-01-31T06:00Z","y":-0.05,"k":-0.02,"r":-0.05},{"t":"1999-01-31T09:00Z","y":-0.07,"k":-0.04,"r":-0.02},{"t":"1999-01-31T12:00Z","y":-0.06,"k":-0.03,"r":-0.04},{"t":"1999-01-31T15:00Z","y":-0.09,"k":-0.05,"r":-0.03},{"t":"1999-01-31T18:00Z","y":-0.05,"k":-0.02,"r":-0.01},{"t":"1999-01-31T21:00Z","y":-0.07,"k":-0.03,"r":-0.03},
{"t":"1999-02-01T00:00Z","y":-0.05,"k":-0.02,"r":-0.02},{"t":"1999-02-01T03:00Z","y":-0.04,"k":-0.01,"r":-0.01},{"t":"1999-02-01T06:00Z","y":-0.06,"k":-0.03,"r":-0.02},{"t":"1999-02-01T09:00Z","y":-0.08,"k":-0.05,"r":-0.07},{"t":"1999-02-01T12:00Z","y":-0.05,"k":-0.02,"r":-0.03},{"t":"1999-02-01T15:00Z","y":-0.07,"k":-0.01,"r":-0.01},{"t":"1999-02-01T18:00Z","y":-0.04,"k":0.00,"r":0.01},{"t":"1999-02-01T21:00Z","y":-0.06,"k":-0.02,"r":-0.01},
{"t":"1999-02-02T00:00Z","y":-0.04,"k":0.00,"r":0.00},{"t":"1999-02-02T03:00Z","y":-0.06,"k":-0.01,"r":0.01},{"t":"1999-02-02T06:00Z","y":-0.03,"k":0.01,"r":-0.01},{"t":"1999-02-02T09:00Z","y":-0.05,"k":0.00,"r":0.01},{"t":"1999-02-02T12:00Z","y":-0.04,"k":-0.01,"r":0.00},{"t":"1999-02-02T15:00Z","y":-0.06,"k":0.01,"r":0.02},{"t":"1999-02-02T18:00Z","y":-0.02,"k":0.00,"r":0.00},{"t":"1999-02-02T21:00Z","y":-0.05,"k":0.01,"r":0.01},
{"t":"1999-02-03T00:00Z","y":-0.03,"k":0.01,"r":0.01},{"t":"1999-02-03T03:00Z","y":-0.05,"k":0.00,"r":0.02},{"t":"1999-02-03T06:00Z","y":-0.02,"k":0.02,"r":0.00},{"t":"1999-02-03T09:00Z","y":-0.04,"k":0.01,"r":0.03},{"t":"1999-02-03T12:00Z","y":-0.03,"k":0.03,"r":0.02},{"t":"1999-02-03T15:00Z","y":-0.07,"k":0.01,"r":0.01},{"t":"1999-02-03T18:00Z","y":-0.02,"k":0.02,"r":0.03},{"t":"1999-02-03T21:00Z","y":-0.04,"k":0.01,"r":0.02},
{"t":"1999-02-04T00:00Z","y":-0.02,"k":0.02,"r":0.03},{"t":"1999-02-04T03:00Z","y":-0.04,"k":0.01,"r":0.02},{"t":"1999-02-04T06:00Z","y":-0.01,"k":0.03,"r":0.04},{"t":"1999-02-04T09:00Z","y":-0.03,"k":0.02,"r":0.02},{"t":"1999-02-04T12:00Z","y":-0.02,"k":0.03,"r":0.03},{"t":"1999-02-04T15:00Z","y":-0.04,"k":0.01,"r":0.02},{"t":"1999-02-04T18:00Z","y":0.01,"k":0.03,"r":0.04},{"t":"1999-02-04T21:00Z","y":-0.05,"k":-0.06,"r":-0.13},
{"t":"1999-02-05T00:00Z","y":-0.04,"k":-0.06,"r":-0.05},{"t":"1999-02-05T03:00Z","y":0.03,"k":0.04,"r":0.05},{"t":"1999-02-05T06:00Z","y":0.12,"k":0.15,"r":0.17},{"t":"1999-02-05T09:00Z","y":-0.05,"k":-0.08,"r":-0.09},{"t":"1999-02-05T12:00Z","y":0.06,"k":0.07,"r":0.08},{"t":"1999-02-05T15:00Z","y":-0.03,"k":-0.04,"r":-0.02},{"t":"1999-02-05T18:00Z","y":0.05,"k":0.06,"r":0.07},{"t":"1999-02-05T21:00Z","y":-0.06,"k":-0.05,"r":-0.06},
{"t":"1999-02-06T00:00Z","y":0.04,"k":0.05,"r":0.06},{"t":"1999-02-06T03:00Z","y":-0.12,"k":-0.20,"r":-0.15},{"t":"1999-02-06T06:00Z","y":0.06,"k":0.07,"r":0.08},{"t":"1999-02-06T09:00Z","y":-0.04,"k":-0.05,"r":-0.12},{"t":"1999-02-06T12:00Z","y":0.08,"k":0.06,"r":0.09},{"t":"1999-02-06T15:00Z","y":-0.06,"k":-0.10,"r":-0.08},{"t":"1999-02-06T18:00Z","y":0.03,"k":0.04,"r":0.05},{"t":"1999-02-06T21:00Z","y":-0.02,"k":-0.03,"r":-0.04},
{"t":"1999-02-07T00:00Z","y":0.17,"k":0.03,"r":0.05},{"t":"1999-02-07T03:00Z","y":-0.05,"k":-0.06,"r":-0.04},{"t":"1999-02-07T06:00Z","y":-0.25,"k":-0.35,"r":-0.30},{"t":"1999-02-07T09:00Z","y":0.10,"k":0.16,"r":0.15},{"t":"1999-02-07T12:00Z","y":-0.12,"k":-0.14,"r":-0.15},{"t":"1999-02-07T15:00Z","y":0.08,"k":0.09,"r":0.12},{"t":"1999-02-07T18:00Z","y":-0.15,"k":-0.20,"r":-0.18},{"t":"1999-02-07T21:00Z","y":0.06,"k":0.10,"r":0.08},
{"t":"1999-02-08T00:00Z","y":0.08,"k":0.10,"r":0.11},{"t":"1999-02-08T03:00Z","y":-0.28,"k":-0.30,"r":-0.28},{"t":"1999-02-08T06:00Z","y":-0.08,"k":-0.10,"r":-0.08},{"t":"1999-02-08T09:00Z","y":0.10,"k":0.12,"r":0.10},{"t":"1999-02-08T12:00Z","y":-0.16,"k":-0.20,"r":-0.18},{"t":"1999-02-08T15:00Z","y":0.05,"k":0.02,"r":0.03},{"t":"1999-02-08T18:00Z","y":-0.03,"k":0.01,"r":0.02},{"t":"1999-02-08T21:00Z","y":-0.30,"k":0.02,"r":0.00},
{"t":"1999-02-09T00:00Z","y":0.12,"k":0.01,"r":0.02},{"t":"1999-02-09T03:00Z","y":-0.20,"k":-0.02,"r":-0.01},{"t":"1999-02-09T06:00Z","y":0.17,"k":0.02,"r":0.03},{"t":"1999-02-09T09:00Z","y":-0.08,"k":-0.01,"r":0.00},{"t":"1999-02-09T12:00Z","y":0.15,"k":0.03,"r":0.02},{"t":"1999-02-09T15:00Z","y":-0.10,"k":-0.02,"r":-0.01},{"t":"1999-02-09T18:00Z","y":0.08,"k":0.01,"r":0.02}
]},
 "layer":[
  {"mark":{"type":"line","color":"#ffff00","strokeWidth":1.5,"clip":true},
   "encoding":{"x":{"field":"t","type":"temporal","title":"datum",
     "scale":{"type":"utc","domain":[{"year":1999,"month":1,"date":22,"utc":true},{"year":1999,"month":2,"date":9,"hours":18,"utc":true}],"nice":false},
     "axis":{"values":[{"year":1999,"month":1,"date":22,"utc":true},{"year":1999,"month":1,"date":24,"utc":true},{"year":1999,"month":1,"date":26,"utc":true},{"year":1999,"month":1,"date":28,"utc":true},{"year":1999,"month":1,"date":30,"utc":true},{"year":1999,"month":2,"date":1,"utc":true},{"year":1999,"month":2,"date":3,"utc":true},{"year":1999,"month":2,"date":5,"utc":true},{"year":1999,"month":2,"date":7,"utc":true},{"year":1999,"month":2,"date":9,"utc":true}],"labelExpr":"utcFormat(datum.value,'%d/%m/%y')","title":"datum"}},
     "y":{"field":"y","type":"quantitative","title":"waterstandsverschil (m)","scale":{"domain":[-0.5,0.5],"nice":false,"zero":false},
       "axis":{"values":[-0.4,-0.2,0,0.2,0.4],"labelExpr":"replace(format(datum.value,'.1~f'),'\u2212','-')"}}}},
  {"mark":{"type":"line","color":"#000000","strokeWidth":1.6,"clip":true},
   "encoding":{"x":{"field":"t","type":"temporal","scale":{"type":"utc","nice":false}},"y":{"field":"k","type":"quantitative","title":"waterstandsverschil (m)","axis":{"values":[-0.4,-0.2,0,0.2,0.4],"labelExpr":"replace(format(datum.value,'.1~f'),'\u2212','-')"}}}},
  {"mark":{"type":"line","color":"#ff0000","strokeWidth":1.6,"clip":true},
   "encoding":{"x":{"field":"t","type":"temporal","scale":{"type":"utc","nice":false}},"y":{"field":"r","type":"quantitative","title":"waterstandsverschil (m)","axis":{"values":[-0.4,-0.2,0,0.2,0.4],"labelExpr":"replace(format(datum.value,'.1~f'),'\u2212','-')"}}}}
 ]},
{"data":{"values":[{}]},"mark":{"type":"rule","color":"#000","strokeWidth":1.2},"encoding":{"y":{"datum":0.5,"type":"quantitative","title":"waterstandsverschil (m)","axis":{"values":[-0.4,-0.2,0,0.2,0.4],"labelExpr":"replace(format(datum.value,'.1~f'),'\u2212','-')"}}}},
{"data":{"values":[{}]},"mark":{"type":"rect","fill":"#ffffff","clip":true},
 "encoding":{"x":{"datum":{"year":1999,"month":2,"date":7,"hours":6,"minutes":7,"utc":true},"type":"temporal","scale":{"type":"utc","nice":false}},"x2":{"datum":{"year":1999,"month":2,"date":9,"hours":18,"utc":true}},
   "y":{"datum":0.5,"type":"quantitative","title":"waterstandsverschil (m)","axis":{"values":[-0.4,-0.2,0,0.2,0.4],"labelExpr":"replace(format(datum.value,'.1~f'),'\u2212','-')"}},"y2":{"datum":0.205}}},
{"data":{"values":[{}]},"mark":{"type":"rule","color":"#000","strokeWidth":1.3},
 "encoding":{"x":{"datum":{"year":1999,"month":2,"date":7,"hours":6,"minutes":7,"utc":true},"type":"temporal","scale":{"type":"utc","nice":false}},
   "y":{"datum":0.5,"type":"quantitative","title":"waterstandsverschil (m)","axis":{"values":[-0.4,-0.2,0,0.2,0.4],"labelExpr":"replace(format(datum.value,'.1~f'),'\u2212','-')"}},"y2":{"datum":0.205}}},
{"data":{"values":[{}]},"mark":{"type":"rule","color":"#000","strokeWidth":1.3},
 "encoding":{"x":{"datum":{"year":1999,"month":2,"date":7,"hours":6,"minutes":7,"utc":true},"type":"temporal","scale":{"type":"utc","nice":false}},"x2":{"datum":{"year":1999,"month":2,"date":9,"hours":18,"utc":true}},
   "y":{"datum":0.205,"type":"quantitative","title":"waterstandsverschil (m)","axis":{"values":[-0.4,-0.2,0,0.2,0.4],"labelExpr":"replace(format(datum.value,'.1~f'),'\u2212','-')"}}}},
{"data":{"values":[{}]},"mark":{"type":"text","text":"GV = -0.018 m","align":"left","baseline":"middle","font":"Liberation Sans","fontWeight":"bold","fontSize":13.5,"color":"#000","clip":true},
 "encoding":{"x":{"datum":{"year":1999,"month":2,"date":7,"hours":8,"minutes":20,"utc":true},"type":"temporal","scale":{"type":"utc","nice":false}},"y":{"datum":0.422,"type":"quantitative","title":"waterstandsverschil (m)","axis":{"values":[-0.4,-0.2,0,0.2,0.4],"labelExpr":"replace(format(datum.value,'.1~f'),'\u2212','-')"}}}},
{"data":{"values":[{}]},"mark":{"type":"text","text":"GAV = 0.036 m","align":"left","baseline":"middle","font":"Liberation Sans","fontWeight":"bold","fontSize":13.5,"color":"#000","clip":true},
 "encoding":{"x":{"datum":{"year":1999,"month":2,"date":7,"hours":8,"minutes":20,"utc":true},"type":"temporal","scale":{"type":"utc","nice":false}},"y":{"datum":0.27,"type":"quantitative","title":"waterstandsverschil (m)","axis":{"values":[-0.4,-0.2,0,0.2,0.4],"labelExpr":"replace(format(datum.value,'.1~f'),'\u2212','-')"}}}}
]
}
],
"config":{
 "font":"Liberation Sans",
 "view":{"stroke":null},
 "axis":{"labelFont":"Liberation Sans","labelFontSize":14,"labelFontWeight":"bold","labelColor":"#000","labelOverlap":false,"labelFlush":false,
   "titleFont":"Liberation Sans","titleFontSize":12.5,"titleFontWeight":"bold","titleColor":"#000",
   "domainColor":"#000","domainWidth":1.2,"tickColor":"#000","tickSize":-5,"tickWidth":1,
   "grid":true,"gridColor":"#000","gridDash":[1.2,5.8],"gridWidth":1,"gridOpacity":0.85},
 "axisX":{"labelPadding":12,"titlePadding":4.5},
 "axisY":{"labelPadding":10.5,"titlePadding":6}
}
}
